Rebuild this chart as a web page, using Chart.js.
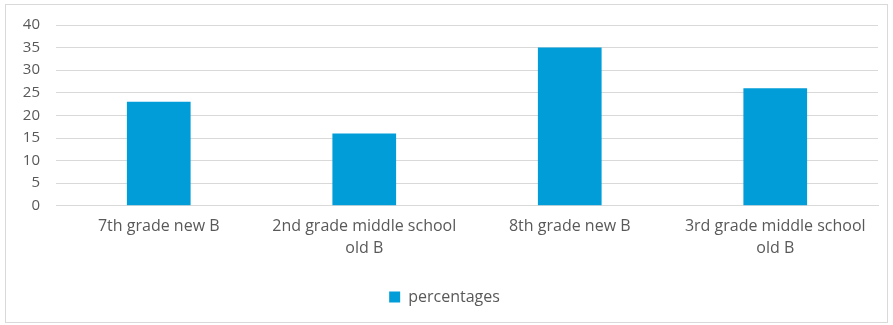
<!DOCTYPE html>
<html>
<head>
<meta charset="utf-8">
<script src="https://cdn.jsdelivr.net/npm/chart.js@4"></script>
<style>
  html, body { margin: 0; padding: 0; background: #fff; }
  #frame {
    position: absolute; left: 5px; top: 4px; width: 881px; height: 317px;
    border: 1px solid #d9d9d9;
  }
  #wrap { position: absolute; left: 0; top: 0; width: 893px; height: 325px; }
</style>
</head>
<body>
<div id="frame"></div>
<div id="wrap"><canvas id="chart"></canvas></div>
<script>
// DATA
const categories = [
  "7th grade new B",
  ["2nd grade middle school", "old B"],
  "8th grade new B",
  ["3rd grade middle school", "old B"]
];
const percentages = [23, 16, 35, 26];
const seriesName = "percentages";
const yMax = 40;
const yStep = 5;

const textColor = "#595959";
const barColor = "#009DD9";
const font = { family: "'Open Sans', 'Liberation Sans', sans-serif", size: 16 };

// CHART
window.onload = () => {
  const ctx = document.getElementById("chart");
  new Chart(ctx, {
    type: "bar",
    data: {
      labels: categories,
      datasets: [{
        label: seriesName,
        data: percentages,
        backgroundColor: barColor,
        categoryPercentage: 1,
        barPercentage: 0.31
      }]
    },
    options: {
      responsive: true,
      maintainAspectRatio: false,
      animation: false,
      layout: { padding: { left: 11, right: 15, top: 22, bottom: 10 } },
      plugins: {
        legend: {
          position: "bottom",
          labels: { color: textColor, font: font, boxWidth: 11, boxHeight: 11, padding: 20 }
        },
        tooltip: { enabled: false }
      },
      scales: {
        x: {
          grid: { display: false, drawTicks: false },
          border: { color: "#d9d9d9" },
          ticks: { color: textColor, font: { ...font, lineHeight: 1.35 }, maxRotation: 0, autoSkip: false, padding: 10 }
        },
        y: {
          min: 0,
          max: yMax,
          afterFit: (s) => { s.width = 45; },
          grid: { color: "#d9d9d9", drawTicks: false },
          border: { display: false },
          ticks: { stepSize: yStep, autoSkip: false, color: textColor, font: { ...font, size: 15 }, padding: 16 }
        }
      }
    }
  });
};
</script>
</body>
</html>
